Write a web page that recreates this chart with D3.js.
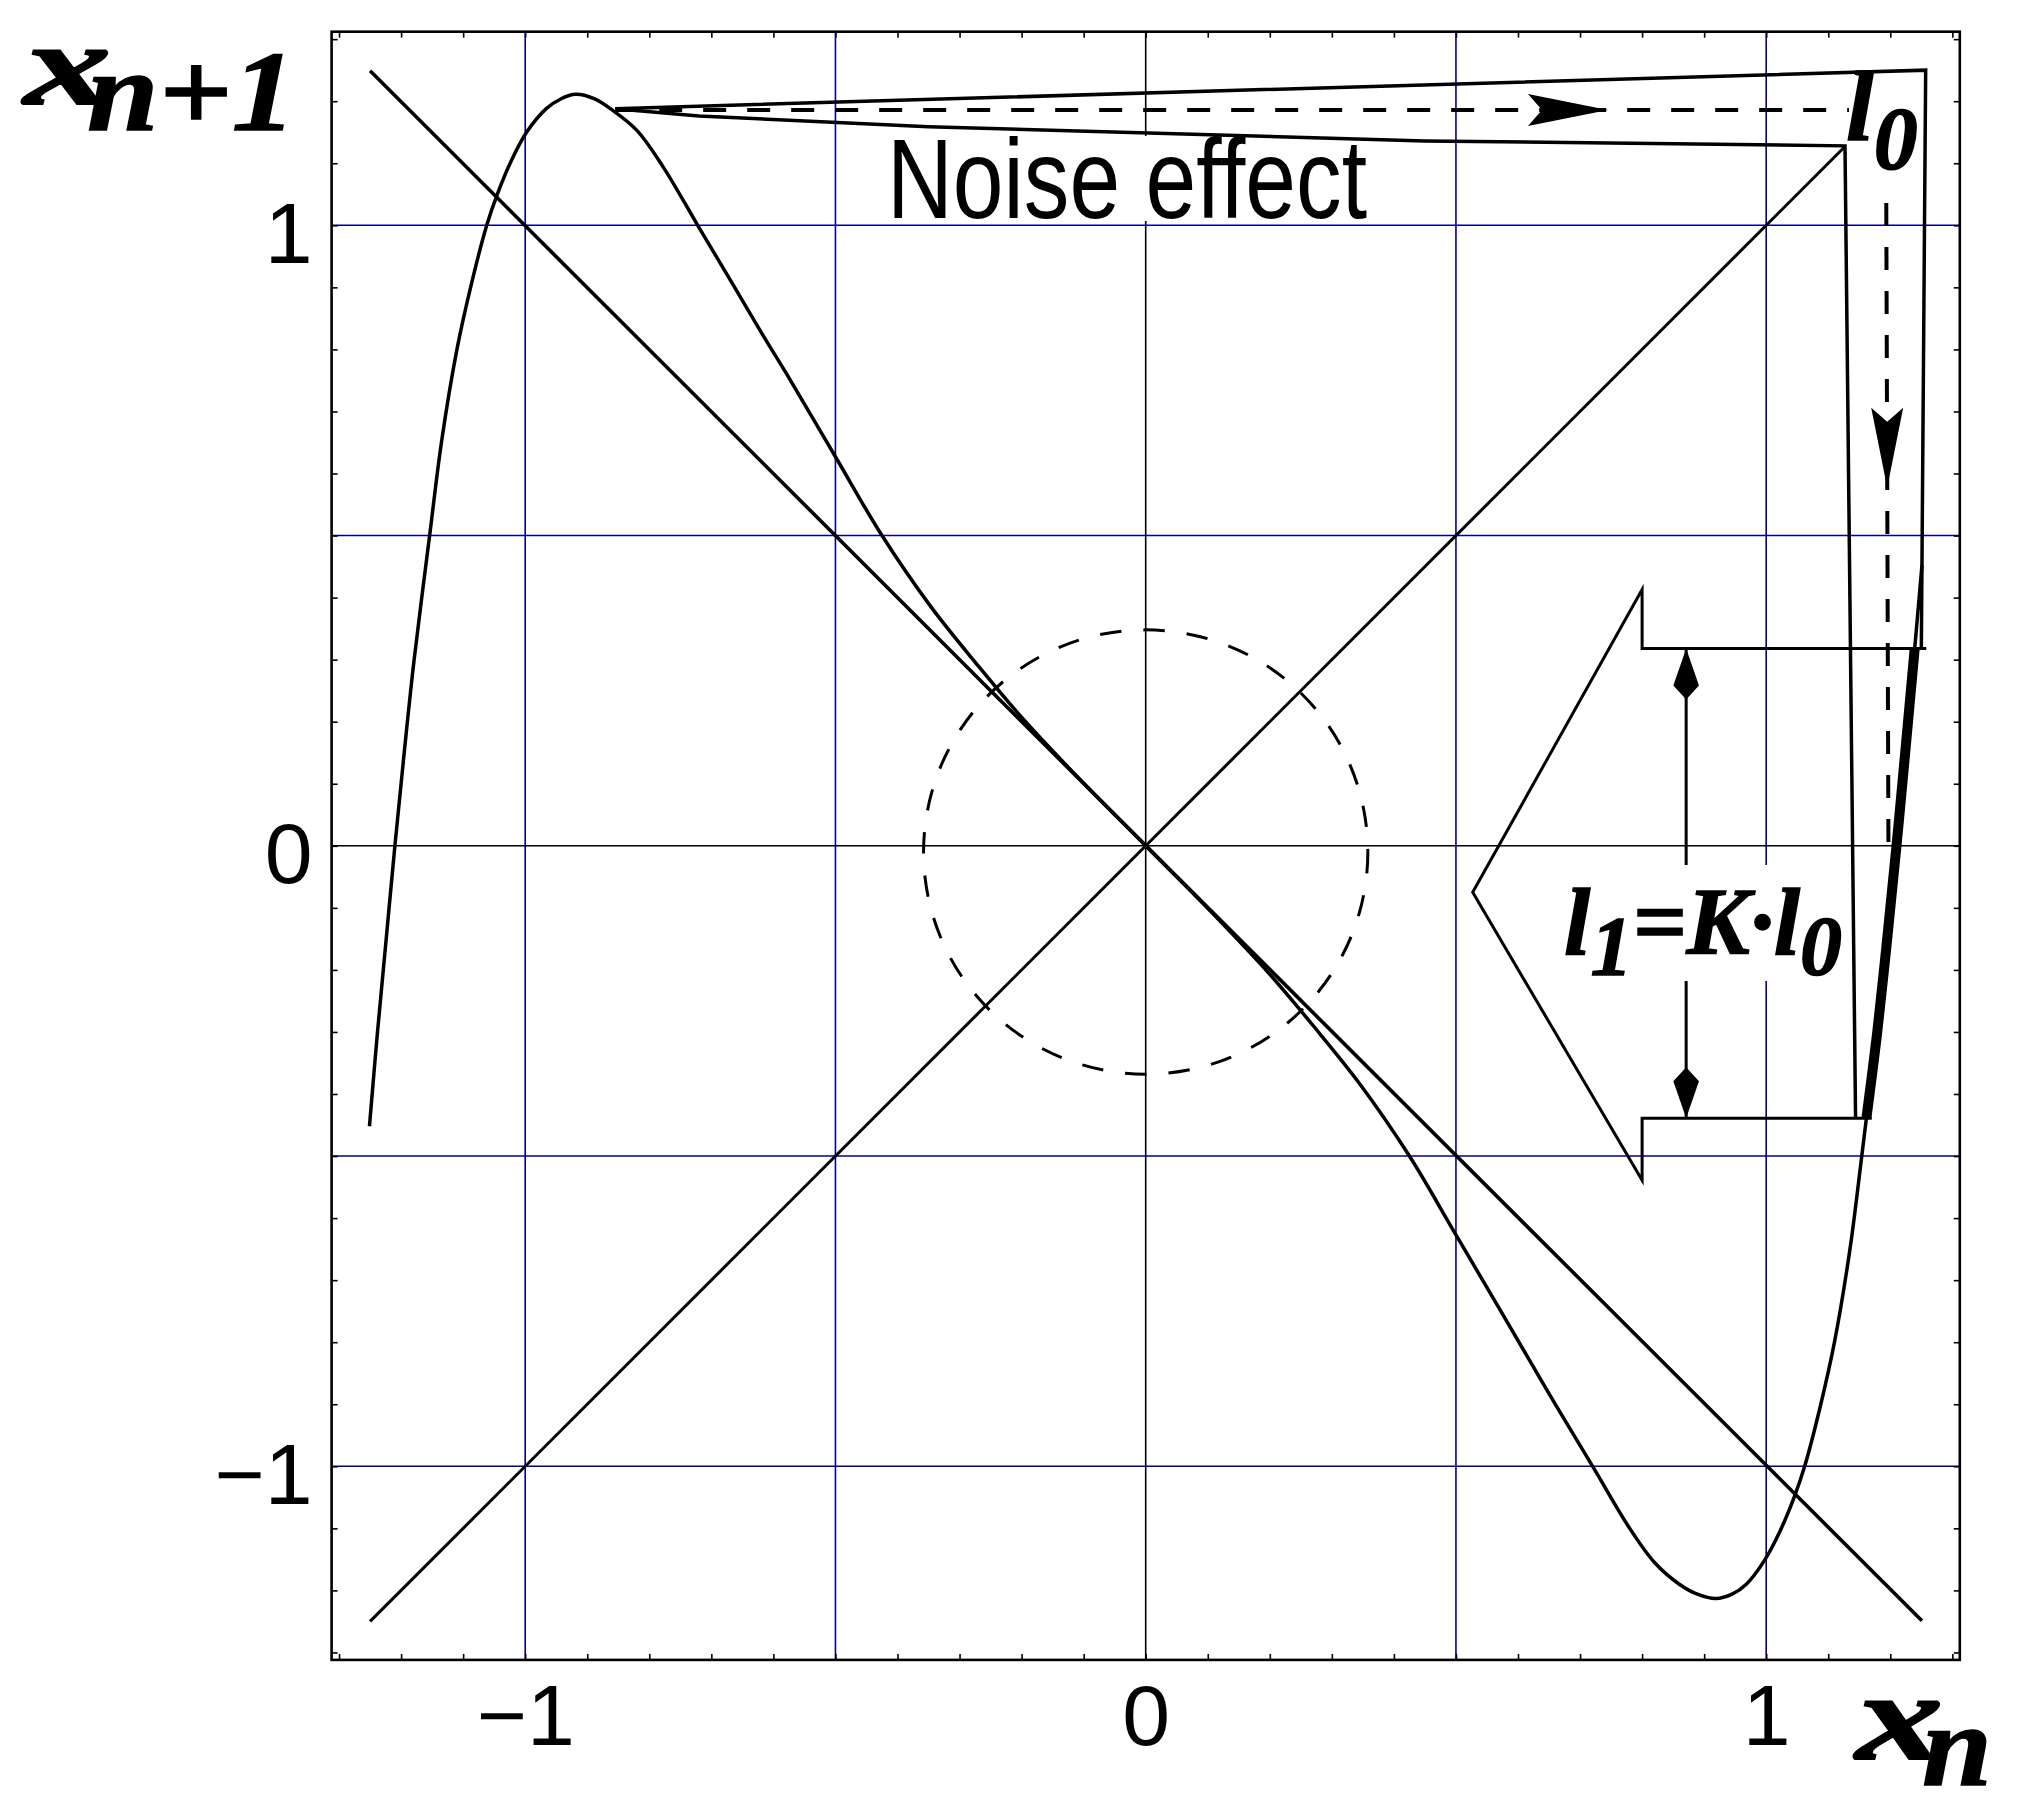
<!DOCTYPE html>
<html>
<head>
<meta charset="utf-8">
<script src="https://cdn.jsdelivr.net/npm/d3@7"></script>
<style>
  body { margin: 0; background: #fff; }
  .tick-label { font-family: "Liberation Sans", Arial, Helvetica, sans-serif; font-size: 86px; fill: #000; }
  .math { font-family: "Liberation Serif", "Times New Roman", serif; font-weight: bold; font-style: italic; fill: #000; stroke: #000; stroke-width: 1.4px; }
</style>
</head>
<body>
<div id="chart"></div>
<script>
"use strict";
// the map x(n) -> x(n+1)
var mapX = [-1.251, -1.238, -1.224, -1.210, -1.195, -1.179, -1.154, -1.135, -1.110, -1.088,
  -1.062, -1.045, -1.022, -0.997, -0.966, -0.942, -0.919, -0.889, -0.860, -0.820,
  -0.777, -0.722, -0.666, -0.617, -0.573, -0.500, -0.425, -0.346, -0.270, -0.199,
  -0.107, 0.000, 0.107, 0.199, 0.270, 0.346, 0.425, 0.500, 0.573, 0.625,
  0.666, 0.722, 0.780, 0.820, 0.860, 0.889, 0.919, 0.945, 0.968, 0.997,
  1.022, 1.045, 1.062, 1.088, 1.110, 1.135, 1.154, 1.1615, 1.179, 1.195,
  1.210, 1.224, 1.2393, 1.251];
var mapY = [-0.452, -0.300, -0.150, 0.000, 0.150, 0.300, 0.500, 0.650, 0.800, 0.900,
  1.000, 1.050, 1.105, 1.151, 1.188, 1.204, 1.211, 1.204, 1.186, 1.153,
  1.093, 1.000, 0.906, 0.823, 0.751, 0.627, 0.500, 0.385, 0.290, 0.206,
  0.108, 0.000, -0.108, -0.206, -0.290, -0.385, -0.500, -0.627, -0.751, -0.840,
  -0.910, -1.003, -1.100, -1.155, -1.190, -1.206, -1.213, -1.206, -1.190, -1.152,
  -1.105, -1.050, -1.000, -0.900, -0.800, -0.650, -0.500, -0.439, -0.300, -0.150,
  0.000, 0.150, 0.318, 0.452];

var gridBlue = [-1, -0.5, 0.5, 1];
var gridZero = [0];
var tickValues = [-1, 0, 1];
var tickLabels = ["\u22121", "0", "1"];

var diagonal = [[-1.250, -1.250], [1.127, 1.127]];
var antiDiagonal = [[-1.250, 1.249], [1.251, -1.249]];
var noiseCircle = [0, -0.01, 0.358];          // cx, cy, r

// interval l0 and its image l1
var l0Interval = [-0.439, 0.318];
var noiseUpper = [[-0.855, 1.188], [1.257, 1.250], [1.250, 0.318]];
var noiseLower = [[-0.855, 1.188], [-0.720, 1.176], [-0.350, 1.159], [0.450, 1.136], [1.127, 1.128], [1.144, -0.439]];
var bigArrow = [[1.258, 0.318], [0.800, 0.318], [0.800, 0.413], [0.527, -0.075], [0.800, -0.539], [0.800, -0.439], [1.170, -0.439]];
var dashedPath = [[-0.855, 1.186], [1.193, 1.186], [1.197, 0.0]];
var dashTipX = [0.745, 1.195];
var dashTipY = [1.186, 0.577];
var dashTipAngle = [0, 90];
var dimensionX = 0.871;

var width = 2025, height = 1811;
var svg = d3.select("#chart").append("svg")
    .attr("width", width)
    .attr("height", height)
    .style("display", "block")
    .style("background", "#fff");

var x = d3.scaleLinear().domain([-1.312, 1.312]).range([331.6, 1959.8]);
var y = d3.scaleLinear().domain([-1.312, 1.312]).range([1659.9, 31.7]);
var x0 = x.range()[0], x1 = x.range()[1], yB = y.range()[0], yT = y.range()[1];

var line = d3.line().x(function (d) { return x(d[0]); }).y(function (d) { return y(d[1]); });
var smooth = d3.line().x(function (d) { return x(d[0]); }).y(function (d) { return y(d[1]); })
    .curve(d3.curveCatmullRom.alpha(0.5));

// grid
var grid = svg.append("g");
grid.selectAll("line.gv").data(gridBlue.concat(gridZero)).enter().append("line")
    .attr("x1", function (d) { return x(d); }).attr("x2", function (d) { return x(d); })
    .attr("y1", yB).attr("y2", yT)
    .attr("stroke", function (d) { return d === 0 ? "#000" : "#00008b"; })
    .attr("stroke-width", 1.6);
grid.selectAll("line.gh").data(gridBlue.concat(gridZero)).enter().append("line")
    .attr("x1", x0).attr("x2", x1)
    .attr("y1", function (d) { return y(d); }).attr("y2", function (d) { return y(d); })
    .attr("stroke", function (d) { return d === 0 ? "#000" : "#00008b"; })
    .attr("stroke-width", 1.6);

var marks = svg.append("g").attr("fill", "none").attr("stroke", "#000");

marks.append("circle")
    .attr("cx", x(noiseCircle[0]))
    .attr("cy", y(noiseCircle[1]))
    .attr("r", x(noiseCircle[2]) - x(0))
    .attr("stroke-width", 3)
    .attr("stroke-dasharray", "21.5,22");

marks.append("path").attr("d", line(antiDiagonal)).attr("stroke-width", 3.6);
marks.append("path").attr("d", line(diagonal)).attr("stroke-width", 3);

var mapPoints = d3.zip(mapX, mapY);
marks.append("path").attr("d", smooth(mapPoints)).attr("stroke-width", 3.5);

// dashed trajectory and the dimension line, both partly covered by the labels
marks.append("path").attr("d", line(dashedPath))
    .attr("stroke-width", 4)
    .attr("stroke-dasharray", "23,21");
marks.append("path")
    .attr("d", line([[dimensionX, l0Interval[1]], [dimensionX, l0Interval[0]]]))
    .attr("stroke-width", 3);

// white label backgrounds
var boxes = [[884, 136, 487, 85], [1849, 76, 72, 115], [1560, 865, 289, 116]];
svg.selectAll("rect.box").data(boxes).enter().append("rect")
    .attr("x", function (d) { return d[0]; }).attr("y", function (d) { return d[1]; })
    .attr("width", function (d) { return d[2]; }).attr("height", function (d) { return d[3]; })
    .attr("fill", "#fff");

var over = svg.append("g").attr("fill", "none").attr("stroke", "#000");
over.append("path").attr("d", line(noiseUpper)).attr("stroke-width", 3.5).attr("stroke-linejoin", "miter");
over.append("path").attr("d", line(noiseLower)).attr("stroke-width", 3.5).attr("stroke-linejoin", "miter");
over.append("path").attr("d", line(bigArrow)).attr("stroke-width", 3).attr("stroke-linejoin", "miter");

// thick piece of the map: image of the interval
var thick = mapPoints.filter(function (d) { return d[0] > 1.15 && d[1] >= l0Interval[0] && d[1] <= l0Interval[1]; });
over.append("path").attr("d", smooth(thick)).attr("stroke-width", 10);

function arrowHead(px, py, angle, shape) {
    return over.append("path")
        .attr("d", d3.line()(shape) + "Z")
        .attr("transform", "translate(" + px + "," + py + ") rotate(" + angle + ")")
        .attr("fill", "#000")
        .attr("stroke", "none");
}
var barb = [[0, 0], [-80, -16], [-66, 0], [-80, 16]];
var diamond = [[0, 0], [-37, -12.8], [-51, 0], [-37, 12.8]];
dashTipX.forEach(function (d, i) {
    arrowHead(x(d), y(dashTipY[i]), dashTipAngle[i], barb);
});
arrowHead(x(dimensionX), y(l0Interval[1]), -90, diamond);
arrowHead(x(dimensionX), y(l0Interval[0]), 90, diamond);

// texts
svg.append("text")
    .attr("class", "tick-label")
    .attr("x", 887).attr("y", 218)
    .style("font-size", "114px")
    .attr("textLength", 480)
    .attr("lengthAdjust", "spacingAndGlyphs")
    .text("Noise effect");

var l0 = svg.append("text").attr("class", "math").attr("x", 1846).attr("y", 140).style("font-size", "100px");
l0.append("tspan").text("l");
l0.append("tspan").style("font-size", "88px").attr("dy", 28).text("0");

var l1 = svg.append("text").attr("class", "math").attr("x", 1564).attr("y", 954).style("font-size", "95px");
l1.append("tspan").text("l");
l1.append("tspan").style("font-size", "84px").attr("dy", 21).text("1");
l1.append("tspan").attr("dy", -21).text("=K\u00b7l");
l1.append("tspan").style("font-size", "84px").attr("dy", 21).text("0");

// axis titles: a wide bold x with a subscript, one text each
function mathTitle(bx, by, xSize, sub, subDx, subDy, subSize, subLength) {
    var t = svg.append("text").attr("class", "math")
        .attr("x", bx).attr("y", by)
        .style("font-size", xSize + "px")
        .style("stroke-width", "2px");
    t.append("tspan")
        .attr("textLength", 87)
        .attr("lengthAdjust", "spacingAndGlyphs")
        .text("x");
    t.append("tspan")
        .attr("dx", subDx).attr("dy", subDy)
        .style("font-size", subSize + "px")
        .style("stroke-width", "1.4px")
        .attr("textLength", subLength)
        .attr("lengthAdjust", "spacingAndGlyphs")
        .text(sub);
}
mathTitle(24, 104, 117, "n+1", -24, 26, 114, 209);
mathTitle(1856, 1759, 124, "n", -21, 26, 116, 70);

// frame, minor ticks and tick labels
var minor = d3.range(-13, 14).map(function (i) { return i / 10; });
function ticks(axis, tx, ty) {
    svg.append("g")
        .attr("transform", "translate(" + tx + "," + ty + ")")
        .call(axis.tickValues(minor).tickSize(-6).tickSizeOuter(0).tickFormat(""))
        .call(function (g) { g.select(".domain").remove(); })
        .selectAll("line").attr("stroke-width", 1.6);
}
ticks(d3.axisBottom(x), 0, yB);
ticks(d3.axisTop(x), 0, yT);
ticks(d3.axisLeft(y), x0, 0);
ticks(d3.axisRight(y), x1, 0);

svg.append("rect")
    .attr("x", x0).attr("y", yT)
    .attr("width", x1 - x0).attr("height", yB - yT)
    .attr("fill", "none").attr("stroke", "#000").attr("stroke-width", 2.6);

var xLabels = svg.append("g")
    .attr("transform", "translate(0," + yB + ")")
    .call(d3.axisBottom(x).tickValues(tickValues).tickSize(0).tickFormat(function (d, i) { return tickLabels[i]; }))
    .call(function (g) { g.select(".domain").remove(); });
xLabels.attr("font-size", null).attr("font-family", null);
xLabels.selectAll("text")
    .attr("class", "tick-label")
    .attr("y", 85).attr("dy", null);

var yLabels = svg.append("g")
    .attr("transform", "translate(" + x0 + ",0)")
    .call(d3.axisLeft(y).tickValues(tickValues).tickSize(0).tickFormat(function (d, i) { return tickLabels[i]; }))
    .call(function (g) { g.select(".domain").remove(); });
yLabels.attr("font-size", null).attr("font-family", null);
yLabels.selectAll("text")
    .attr("class", "tick-label")
    .attr("x", -19).attr("dy", "0.43em");
</script>
</body>
</html>
